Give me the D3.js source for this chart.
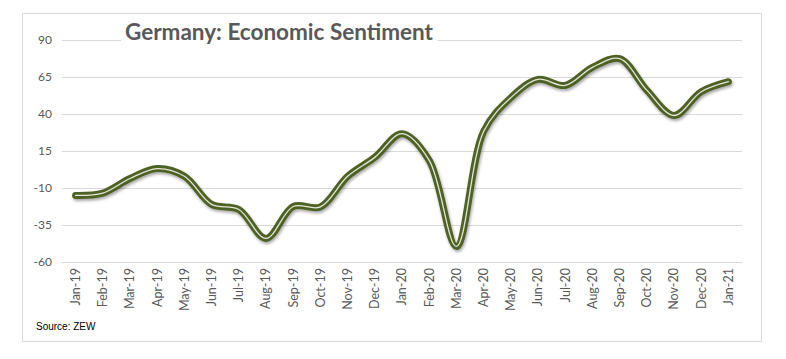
<!DOCTYPE html>
<html lang="en">
<head>
<meta charset="utf-8" />
<title>Germany: Economic Sentiment</title>
<script src="https://cdnjs.cloudflare.com/ajax/libs/d3/7.8.5/d3.min.js"></script>
<style>
  body { margin: 0; background: #fff; }
  svg { display: block; }
</style>
</head>
<body>
<svg id="chart" width="786" height="359"></svg>
<script>
// ZEW economic sentiment, Germany
const months = ["Jan-19","Feb-19","Mar-19","Apr-19","May-19","Jun-19","Jul-19","Aug-19","Sep-19","Oct-19","Nov-19","Dec-19",
                "Jan-20","Feb-20","Mar-20","Apr-20","May-20","Jun-20","Jul-20","Aug-20","Sep-20","Oct-20","Nov-20","Dec-20","Jan-21"];
const sentiment = [-15.0,-13.4,-3.6,3.1,-2.1,-21.1,-24.5,-44.1,-22.5,-22.8,-2.1,10.7,
                   26.7,8.7,-49.5,28.2,51.0,63.4,59.3,71.5,77.4,56.1,39.0,55.0,61.8];
const yTicks = [-60,-35,-10,15,40,65,90];

const svg = d3.select("#chart");
const labelFont = "Lato, 'Open Sans', sans-serif";

// outer frame
svg.append("rect")
  .attr("x", 22.5).attr("y", 13.5)
  .attr("width", 739).attr("height", 328)
  .attr("fill", "#fff").attr("stroke", "#d9d9d9");

const x = d3.scaleBand().domain(months).range([62, 742]).padding(0);
const y = d3.scaleLinear().domain([-60, 90]).range([262, 40]);

// gridlines + y labels
svg.append("g")
  .attr("transform", "translate(62,0)")
  .call(d3.axisLeft(y).tickValues(yTicks).tickSize(-680).tickPadding(10).tickFormat(d => String(d)))
  .call(g => g.select(".domain").remove())
  .call(g => g.selectAll(".tick line").attr("stroke", "#d9d9d9"))
  .call(g => g.selectAll(".tick text")
    .attr("fill", "#595959")
    .attr("font-family", labelFont)
    .attr("font-size", "12px"));

// x labels (rotated)
svg.append("g")
  .attr("transform", "translate(0,262)")
  .call(d3.axisBottom(x).tickSize(0).tickPadding(0))
  .call(g => g.select(".domain").remove())
  .call(g => g.selectAll(".tick text")
    .attr("fill", "#595959")
    .attr("font-family", labelFont)
    .attr("font-size", "12.5px")
    .attr("text-anchor", "end")
    .attr("transform", "rotate(-90)")
    .attr("x", -6)
    .attr("y", 0)
    .attr("dy", "0.35em"));

// title with white backing (covers top gridline)
const title = svg.append("text")
  .attr("x", 125).attr("y", 40)
  .attr("font-family", labelFont)
  .attr("font-weight", "700")
  .attr("font-size", "22.5px")
  .attr("fill", "#595959")
  .text("Germany: Economic Sentiment");
const tb = title.node().getBBox();
svg.insert("rect", () => title.node())
  .attr("x", tb.x - 4).attr("y", tb.y)
  .attr("width", tb.width + 8).attr("height", tb.height)
  .attr("fill", "#fff");

// line
const defs = svg.append("defs");
const f = defs.append("filter").attr("id", "shadow")
  .attr("x", "-10%").attr("y", "-10%").attr("width", "120%").attr("height", "130%");
f.append("feDropShadow").attr("dx", 1).attr("dy", 2).attr("stdDeviation", 1.5)
  .attr("flood-color", "#000").attr("flood-opacity", 0.35);

const line = d3.line()
  .x((d, i) => x(months[i]) + x.bandwidth() / 2)
  .y(d => y(d))
  .curve(d3.curveCatmullRom.alpha(0.5));

svg.append("path")
  .datum(sentiment)
  .attr("d", line)
  .attr("fill", "none")
  .attr("stroke", "#4f6228")
  .attr("stroke-width", 7)
  .attr("stroke-linecap", "round")
  .attr("stroke-linejoin", "round")
  .attr("filter", "url(#shadow)");

svg.append("path")
  .datum(sentiment)
  .attr("d", line)
  .attr("fill", "none")
  .attr("stroke", "#e3e6d5")
  .attr("stroke-width", 1.3)
  .attr("stroke-linecap", "round")
  .attr("stroke-linejoin", "round");

// source note
svg.append("text")
  .attr("x", 36).attr("y", 330)
  .attr("font-family", "'Liberation Sans', Arial, sans-serif")
  .attr("font-size", "10px")
  .attr("fill", "#000")
  .text("Source: ZEW");
</script>
</body>
</html>
